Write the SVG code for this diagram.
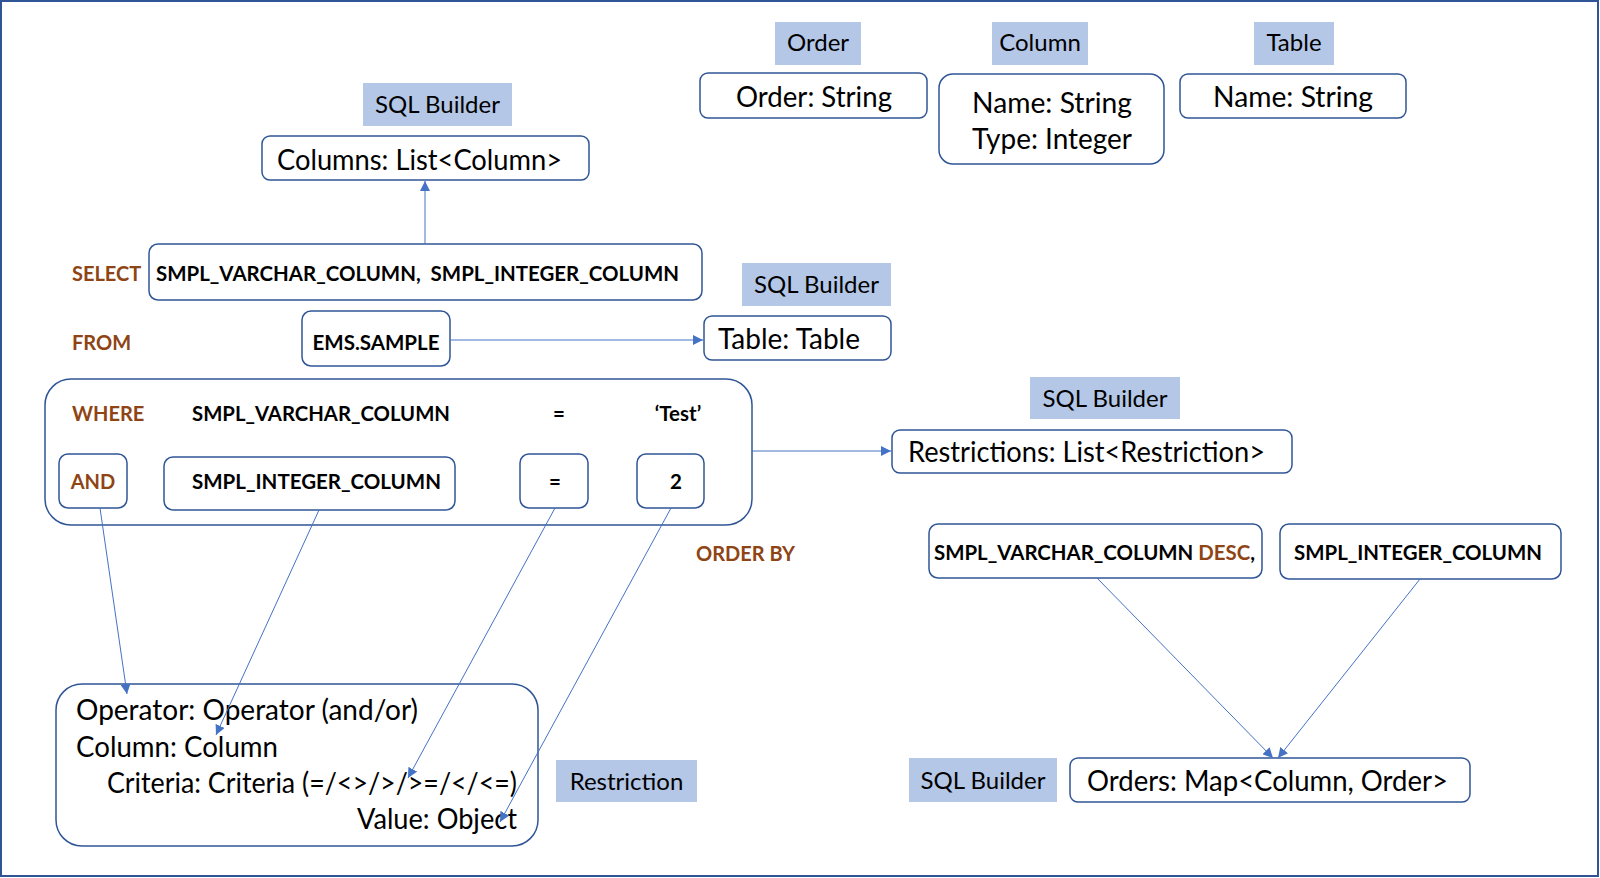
<svg xmlns="http://www.w3.org/2000/svg" width="1600" height="878" viewBox="0 0 1600 878">
<style>
.frame{fill:#fff;stroke:#2F5597;stroke-width:2}
.lbl{fill:#B4C7E7}
.box{fill:#fff;stroke:#2F5597;stroke-width:1.5}
.lt{font-family:Lato,"Open Sans",sans-serif;font-size:24px;fill:#000;text-anchor:middle}
.bt{font-family:Lato,"Open Sans",sans-serif;font-size:28px;fill:#000}
.code{font-family:Lato,"Open Sans",sans-serif;font-size:20.5px;font-weight:bold;fill:#000}
.kw{font-family:Lato,"Open Sans",sans-serif;font-size:20px;font-weight:bold;fill:#8E4414}
.c{text-anchor:middle}
.con{stroke:#4472C4;stroke-width:1;fill:none;marker-end:url(#ah)}
</style>
<defs>
<marker id="ah" viewBox="0 0 10 10" refX="10" refY="5" markerWidth="10" markerHeight="10" markerUnits="userSpaceOnUse" orient="auto">
<path d="M0,0 L10,5 L0,10 z" fill="#4472C4"/>
</marker>
</defs>
<rect class="frame" x="1" y="1" width="1597" height="875"/>

<g id="order-class">
<rect class="lbl" x="775" y="22" width="86" height="43"/>
<text class="lt" x="818" y="51">Order</text>
<rect class="box" x="700" y="73" width="227" height="45" rx="8"/>
<text class="bt c" x="814" y="107" textLength="156" lengthAdjust="spacingAndGlyphs">Order: String</text>
</g>

<g id="column-class">
<rect class="lbl" x="992" y="22" width="96" height="43"/>
<text class="lt" x="1040" y="51">Column</text>
<rect class="box" x="939" y="74" width="225" height="90" rx="14"/>
<text class="bt c" x="1052" y="113" textLength="160" lengthAdjust="spacingAndGlyphs">Name: String</text>
<text class="bt c" x="1052" y="149" textLength="160" lengthAdjust="spacingAndGlyphs">Type: Integer</text>
</g>

<g id="table-class">
<rect class="lbl" x="1254" y="22" width="80" height="43"/>
<text class="lt" x="1294" y="51">Table</text>
<rect class="box" x="1180" y="74" width="226" height="44" rx="8"/>
<text class="bt c" x="1293" y="107" textLength="160" lengthAdjust="spacingAndGlyphs">Name: String</text>
</g>

<g id="columns-builder">
<rect class="lbl" x="363" y="83" width="149" height="43"/>
<text class="lt" x="437.5" y="113">SQL Builder</text>
<rect class="box" x="262" y="136" width="327" height="44" rx="8"/>
<text class="bt" x="277" y="170" textLength="285" lengthAdjust="spacingAndGlyphs">Columns: List&lt;Column&gt;</text>
</g>

<g id="select-row">
<text class="kw" x="72" y="281">SELECT</text>
<rect class="box" x="149" y="244" width="553" height="56" rx="9"/>
<text class="code" x="156" y="281" xml:space="preserve" textLength="523" lengthAdjust="spacingAndGlyphs">SMPL_VARCHAR_COLUMN,  SMPL_INTEGER_COLUMN</text>
</g>

<g id="table-builder">
<rect class="lbl" x="742" y="263" width="149" height="43"/>
<text class="lt" x="816.5" y="293">SQL Builder</text>
<rect class="box" x="704" y="316" width="187" height="44" rx="8"/>
<text class="bt" x="718" y="349" textLength="142" lengthAdjust="spacingAndGlyphs">Table: Table</text>
</g>

<g id="from-row">
<text class="kw" x="72" y="350">FROM</text>
<rect class="box" x="302" y="311" width="148" height="55" rx="9"/>
<text class="code c" x="376" y="350" textLength="127" lengthAdjust="spacingAndGlyphs">EMS.SAMPLE</text>
</g>

<g id="where-block">
<rect class="box" x="45" y="379" width="707" height="146" rx="26"/>
<text class="kw" x="72" y="421">WHERE</text>
<text class="code" x="192" y="421" textLength="258" lengthAdjust="spacingAndGlyphs">SMPL_VARCHAR_COLUMN</text>
<text class="code c" x="559" y="421">=</text>
<text class="code c" x="678" y="421">‘Test’</text>
</g>

<g id="and-box">
<rect class="box" x="59" y="454" width="68" height="54" rx="9"/>
<text class="kw c" x="93" y="489">AND</text>
</g>
<g id="int-col-box">
<rect class="box" x="164" y="457" width="291" height="53" rx="9"/>
<text class="code" x="192" y="489" textLength="249" lengthAdjust="spacingAndGlyphs">SMPL_INTEGER_COLUMN</text>
</g>
<g id="eq-box">
<rect class="box" x="520" y="454" width="68" height="54" rx="9"/>
<text class="code c" x="555" y="489">=</text>
</g>
<g id="val-box">
<rect class="box" x="637" y="454" width="67" height="54" rx="9"/>
<text class="code c" x="676" y="489">2</text>
</g>

<g id="restrictions-builder">
<rect class="lbl" x="1030" y="377" width="150" height="42"/>
<text class="lt" x="1105" y="407">SQL Builder</text>
<rect class="box" x="892" y="430" width="400" height="43" rx="8"/>
<text class="bt" x="908" y="462" textLength="357" lengthAdjust="spacingAndGlyphs">Restrictions: List&lt;Restriction&gt;</text>
</g>

<g id="order-by">
<text class="kw" x="696" y="561">ORDER BY</text>
</g>
<g id="order-col1">
<rect class="box" x="929" y="524" width="333" height="54" rx="9"/>
<text class="code" x="934" y="560" textLength="321" lengthAdjust="spacingAndGlyphs">SMPL_VARCHAR_COLUMN <tspan fill="#8E4414">DESC</tspan>,</text>
</g>
<g id="order-col2">
<rect class="box" x="1280" y="524" width="281" height="55" rx="9"/>
<text class="code" x="1294" y="560" textLength="248" lengthAdjust="spacingAndGlyphs">SMPL_INTEGER_COLUMN</text>
</g>

<g id="orders-builder">
<rect class="lbl" x="909" y="758" width="148" height="44"/>
<text class="lt" x="983" y="789">SQL Builder</text>
<rect class="box" x="1070" y="758" width="400" height="44" rx="8"/>
<text class="bt" x="1087" y="791" textLength="361" lengthAdjust="spacingAndGlyphs">Orders: Map&lt;Column, Order&gt;</text>
</g>

<g id="restriction-class">
<rect class="box" x="56" y="684" width="482" height="162" rx="26"/>
<text class="bt" x="76" y="720" textLength="342" lengthAdjust="spacingAndGlyphs">Operator: Operator (and/or)</text>
<text class="bt" x="76" y="757" textLength="202" lengthAdjust="spacingAndGlyphs">Column: Column</text>
<text class="bt" x="107" y="793" textLength="410" lengthAdjust="spacingAndGlyphs">Criteria: Criteria (=/&lt;&gt;/&gt;/&gt;=/&lt;/&lt;=)</text>
<text class="bt" x="357" y="829" textLength="160" lengthAdjust="spacingAndGlyphs">Value: Object</text>
<rect class="lbl" x="556" y="760" width="141" height="42"/>
<text class="lt" x="626.5" y="790">Restriction</text>
</g>

<g id="connectors">
<line class="con" x1="425" y1="244" x2="425" y2="181"/>
<line class="con" x1="450" y1="340" x2="703" y2="340"/>
<line class="con" x1="752" y1="451" x2="891" y2="451"/>
<line class="con" x1="100" y1="508" x2="127" y2="694"/>
<line class="con" x1="319" y1="510" x2="216" y2="735"/>
<line class="con" x1="555" y1="508" x2="408" y2="778"/>
<line class="con" x1="671" y1="508" x2="500" y2="822"/>
<line class="con" x1="1097" y1="578" x2="1273" y2="758"/>
<line class="con" x1="1420" y1="579" x2="1278" y2="758"/>
</g>
</svg>
